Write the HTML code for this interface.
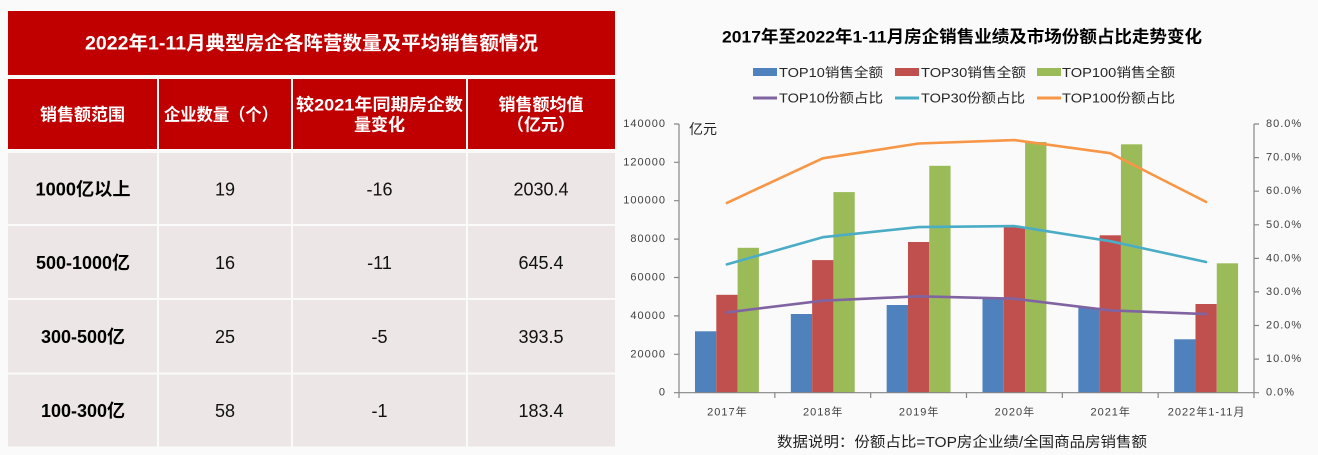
<!DOCTYPE html>
<html><head><meta charset="utf-8"><style>
html,body{margin:0;padding:0;background:#fafafa;}
svg{display:block;}
text{font-family:"Liberation Sans","Noto Sans CJK SC",sans-serif;}
</style></head><body>
<svg width="1318" height="455" viewBox="0 0 1318 455" xmlns="http://www.w3.org/2000/svg">
<rect x="0" y="0" width="1318" height="455" fill="#fafafa"/>
<!-- TABLE -->
<rect x="8" y="11" width="607" height="64" fill="#c00000"/>
<text x="311.5" y="44" text-anchor="middle" dominant-baseline="central" font-size="19" font-weight="bold" fill="#fff" textLength="453" lengthAdjust="spacingAndGlyphs">2022年1-11月典型房企各阵营数量及平均销售额情况</text>
<g fill="#c00000">
<rect x="8" y="79" width="149" height="70"/>
<rect x="159" y="79" width="132" height="70"/>
<rect x="293" y="79" width="173" height="70"/>
<rect x="468" y="79" width="147" height="70"/>
</g>
<g fill="#fff" font-size="17" font-weight="bold" text-anchor="middle" dominant-baseline="central">
<text x="82.5" y="115">销售额范围</text>
<text x="221" y="115" textLength="114" lengthAdjust="spacingAndGlyphs">企业数量（个）</text>
<text x="379.5" y="105" textLength="167" lengthAdjust="spacingAndGlyphs">较2021年同期房企数</text>
<text x="379.5" y="125">量变化</text>
<text x="541" y="105">销售额均值</text>
<text x="541" y="125">（亿元）</text>
</g>
<g fill="#ece6e6">
<rect x="8" y="153" width="149" height="71"/><rect x="159" y="153" width="132" height="71"/><rect x="293" y="153" width="173" height="71"/><rect x="468" y="153" width="147" height="71"/>
<rect x="8" y="226" width="149" height="72"/><rect x="159" y="226" width="132" height="72"/><rect x="293" y="226" width="173" height="72"/><rect x="468" y="226" width="147" height="72"/>
<rect x="8" y="300" width="149" height="72.5"/><rect x="159" y="300" width="132" height="72.5"/><rect x="293" y="300" width="173" height="72.5"/><rect x="468" y="300" width="147" height="72.5"/>
<rect x="8" y="374.5" width="149" height="72"/><rect x="159" y="374.5" width="132" height="72"/><rect x="293" y="374.5" width="173" height="72"/><rect x="468" y="374.5" width="147" height="72"/>
</g>
<g font-size="18" text-anchor="middle" dominant-baseline="central" fill="#111">
<text x="83" y="189.5" font-weight="bold" fill="#000" textLength="95" lengthAdjust="spacingAndGlyphs">1000亿以上</text>
<text x="225" y="189.5">19</text>
<text x="379.5" y="189.5">-16</text>
<text x="541" y="189.5">2030.4</text>
<text x="83" y="263" font-weight="bold" fill="#000">500-1000亿</text>
<text x="225" y="263">16</text>
<text x="379.5" y="263">-11</text>
<text x="541" y="263">645.4</text>
<text x="83" y="337" font-weight="bold" fill="#000">300-500亿</text>
<text x="225" y="337">25</text>
<text x="379.5" y="337">-5</text>
<text x="541" y="337">393.5</text>
<text x="83" y="411" font-weight="bold" fill="#000">100-300亿</text>
<text x="225" y="411">58</text>
<text x="379.5" y="411">-1</text>
<text x="541" y="411">183.4</text>
</g>

<!-- CHART -->
<text x="962" y="37" text-anchor="middle" dominant-baseline="central" font-size="17" font-weight="bold" fill="#000" textLength="480" lengthAdjust="spacingAndGlyphs">2017年至2022年1-11月房企销售业绩及市场份额占比走势变化</text>
<!-- legend -->
<rect x="753" y="68" width="24" height="8" fill="#4f81bd"/>
<rect x="895" y="68" width="24" height="8" fill="#c0504d"/>
<rect x="1037" y="68" width="24" height="8" fill="#9bbb59"/>
<line x1="753" y1="98" x2="777" y2="98" stroke="#8064a2" stroke-width="3"/>
<line x1="895" y1="98" x2="919" y2="98" stroke="#4bacc6" stroke-width="3"/>
<line x1="1037" y1="98" x2="1061" y2="98" stroke="#f79646" stroke-width="3"/>
<g font-size="13" fill="#262626" dominant-baseline="central">
<text x="779" y="72.5" textLength="104" lengthAdjust="spacingAndGlyphs">TOP10销售全额</text>
<text x="921" y="72.5" textLength="105" lengthAdjust="spacingAndGlyphs">TOP30销售全额</text>
<text x="1062" y="72.5" textLength="113" lengthAdjust="spacingAndGlyphs">TOP100销售全额</text>
<text x="779" y="98" textLength="104" lengthAdjust="spacingAndGlyphs">TOP10份额占比</text>
<text x="921" y="98" textLength="104" lengthAdjust="spacingAndGlyphs">TOP30份额占比</text>
<text x="1062" y="98" textLength="113" lengthAdjust="spacingAndGlyphs">TOP100份额占比</text>
</g>
<!-- bars -->
<g fill="#4f81bd">
<rect x="695" y="331.3" width="21.3" height="61.4"/>
<rect x="790.83" y="314.0" width="21.3" height="78.7"/>
<rect x="886.67" y="305.0" width="21.3" height="87.7"/>
<rect x="982.5" y="299.0" width="21.3" height="93.7"/>
<rect x="1078.33" y="307.7" width="21.3" height="85.0"/>
<rect x="1174.17" y="339.3" width="21.3" height="53.4"/>
</g>
<g fill="#c0504d">
<rect x="716.3" y="294.8" width="21.3" height="97.9"/>
<rect x="812.13" y="260.1" width="21.3" height="132.6"/>
<rect x="907.97" y="242.0" width="21.3" height="150.7"/>
<rect x="1003.8" y="226.7" width="21.3" height="166.0"/>
<rect x="1099.63" y="235.3" width="21.3" height="157.4"/>
<rect x="1195.47" y="304.0" width="21.3" height="88.7"/>
</g>
<g fill="#9bbb59">
<rect x="737.6" y="247.8" width="21.3" height="144.9"/>
<rect x="833.43" y="192.1" width="21.3" height="200.6"/>
<rect x="929.27" y="165.8" width="21.3" height="226.9"/>
<rect x="1025.1" y="142.0" width="21.3" height="250.7"/>
<rect x="1120.93" y="144.3" width="21.3" height="248.4"/>
<rect x="1216.77" y="263.3" width="21.3" height="129.4"/>
</g>
<!-- axes -->
<g stroke="#868686" stroke-width="1.2" fill="none">
<line x1="679" y1="124" x2="679" y2="392.7"/>
<line x1="1254" y1="124" x2="1254" y2="392.7"/>
<line x1="674" y1="392.7" x2="1259" y2="392.7"/>
<path d="M674 124H679M674 162.3H679M674 200.7H679M674 239.1H679M674 277.5H679M674 315.9H679M674 354.3H679"/>
<path d="M1254 124H1259M1254 157.6H1259M1254 191.2H1259M1254 224.8H1259M1254 258.4H1259M1254 291.9H1259M1254 325.5H1259M1254 359.1H1259"/>
<path d="M679 392.7V398M774.83 392.7V398M870.67 392.7V398M966.5 392.7V398M1062.33 392.7V398M1158.17 392.7V398M1254 392.7V398"/>
</g>
<!-- lines -->
<g fill="none" stroke-width="2.6" stroke-linejoin="round" stroke-linecap="round">
<polyline stroke="#f79646" points="726.92,202.9 822.75,158.3 918.58,143.5 1014.42,140.1 1110.25,153.2 1206.08,201.9"/>
<polyline stroke="#4bacc6" points="726.92,264.4 822.75,237.2 918.58,227.1 1014.42,226.1 1110.25,241.2 1206.08,262.0"/>
<polyline stroke="#8064a2" points="726.92,312.4 822.75,300.7 918.58,296.3 1014.42,298.7 1110.25,310.4 1206.08,314.1"/>
</g>
<!-- axis labels -->
<g font-size="11" fill="#404040" dominant-baseline="central" letter-spacing="1">
<g text-anchor="end">
<text x="666" y="124">140000</text>
<text x="666" y="162.3">120000</text>
<text x="666" y="200.7">100000</text>
<text x="666" y="239.1">80000</text>
<text x="666" y="277.5">60000</text>
<text x="666" y="315.9">40000</text>
<text x="666" y="354.3">20000</text>
<text x="666" y="392.7">0</text>
</g>
<text x="1266" y="124">80.0%</text>
<text x="1266" y="157.6">70.0%</text>
<text x="1266" y="191.2">60.0%</text>
<text x="1266" y="224.8">50.0%</text>
<text x="1266" y="258.4">40.0%</text>
<text x="1266" y="291.9">30.0%</text>
<text x="1266" y="325.5">20.0%</text>
<text x="1266" y="359.1">10.0%</text>
<text x="1266" y="392.7">0.0%</text>
<g text-anchor="middle">
<text x="727.4" y="412.5">2017年</text>
<text x="823.2" y="412.5">2018年</text>
<text x="919.1" y="412.5">2019年</text>
<text x="1014.9" y="412.5">2020年</text>
<text x="1110.7" y="412.5">2021年</text>
<text x="1206.6" y="412.5">2022年1-11月</text>
</g>
</g>
<text x="689" y="129" font-size="14" fill="#222" dominant-baseline="central">亿元</text>
<text x="962" y="443" text-anchor="middle" dominant-baseline="central" font-size="14.5" fill="#222" textLength="370" lengthAdjust="spacingAndGlyphs">数据说明：份额占比=TOP房企业绩/全国商品房销售额</text>
</svg>
</body></html>
